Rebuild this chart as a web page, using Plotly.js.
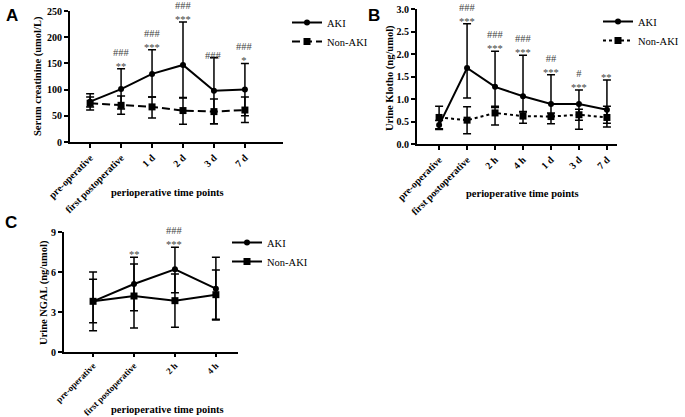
<!DOCTYPE html>
<html>
<head>
<meta charset="utf-8">
<script src="https://cdn.plot.ly/plotly-3.0.1.min.js"></script>
<style>
  html, body { margin: 0; padding: 0; background: #fff; }
  #chart { width: 685px; height: 417px; }
</style>
</head>
<body>
<div id="chart"></div>
<script>
// Panel A - serum creatinine
const aCats = ['pre-operative', 'first postoperative', '1 d', '2 d', '3 d', '7 d'];
const aAki = [77, 101, 130, 147, 98, 100];
const aAkiHi = [15, 39, 46, 82, 63, 50];
const aAkiLo = [10, 38, 44, 63, 63, 50];
const aNon = [74, 70, 67, 60, 58, 61];
const aNonHi = [12, 18, 19, 25, 24, 25];
const aNonLo = [13, 17, 21, 26, 23, 24];
const aSig = ['', '###<br>**', '###<br>***', '###<br>***', '###', '###<br>*'];

// Panel B - urine Klotho
const bCats = ['pre-operative', 'first postoperative', '2 h', '4 h', '1 d', '3 d', '7 d'];
const bAki = [0.42, 1.69, 1.27, 1.06, 0.89, 0.89, 0.76];
const bAkiHi = [0.10, 0.98, 0.79, 0.91, 0.65, 0.31, 0.66];
const bAkiLo = [0.10, 0.67, 0.43, 0.35, 0.28, 0.36, 0.30];
const bNon = [0.59, 0.53, 0.69, 0.62, 0.61, 0.65, 0.59];
const bNonHi = [0.25, 0.30, 0.12, 0.10, 0.08, 0.12, 0.25];
const bNonLo = [0.25, 0.30, 0.27, 0.16, 0.16, 0.32, 0.21];
const bSig = ['', '###<br>***', '###<br>***', '###<br>***', '##<br>***', '#<br>***', '**'];

// Panel C - urine NGAL
const cCats = ['pre-operative', 'first postoperative', '2 h', '4 h'];
const cAki = [3.8, 5.1, 6.2, 4.75];
const cAkiHi = [2.2, 2.0, 1.65, 2.35];
const cAkiLo = [2.2, 2.0, 1.75, 2.35];
const cNon = [3.8, 4.2, 3.85, 4.3];
const cNonHi = [1.65, 2.4, 2.0, 1.85];
const cNonLo = [1.6, 2.4, 2.0, 1.85];
const cSig = ['', '**', '###<br>***', ''];

const serif = "'Liberation Serif', serif";
const W = 685, H = 417;
const px = v => v / W;
const py = v => 1 - v / H;

function errs(hi, lo) {
    return { type: 'data', symmetric: false, array: hi, arrayminus: lo,
             color: '#000', thickness: 1.5, width: 4 };
}

function series(cats, y, hi, lo, name, symbol, dash, ax, leg) {
    return {
        x: cats, y: y, name: name, type: 'scatter', mode: 'lines+markers',
        xaxis: 'x' + ax, yaxis: 'y' + ax, legend: leg,
        line: { color: '#000', width: 2, dash: dash },
        marker: { color: '#000', symbol: symbol, size: symbol === 'square' ? 7 : 6 },
        error_y: errs(hi, lo)
    };
}

const traces = [
    series(aCats, aAki, aAkiHi, aAkiLo, 'AKI', 'circle', 'solid', '', 'legend'),
    series(aCats, aNon, aNonHi, aNonLo, 'Non-AKI', 'square', '8px,4px', '', 'legend'),
    series(bCats, bAki, bAkiHi, bAkiLo, 'AKI', 'circle', 'solid', '2', 'legend2'),
    series(bCats, bNon, bNonHi, bNonLo, 'Non-AKI', 'square', 'dot', '2', 'legend2'),
    series(cCats, cAki, cAkiHi, cAkiLo, 'AKI', 'circle', 'solid', '3', 'legend3'),
    series(cCats, cNon, cNonHi, cNonLo, 'Non-AKI', 'square', 'solid', '3', 'legend3')
];

function xAxis(dom, range, anchor, fs, tl) {
    return {
        domain: dom, range: range, anchor: anchor, type: 'category',
        showline: true, linecolor: '#000', linewidth: 2, showgrid: false, zeroline: false,
        ticks: 'outside', ticklen: tl, tickwidth: 1.5, tickcolor: '#000',
        tickangle: -45, tickfont: { family: serif, size: fs, color: '#000', weight: 'bold' }
    };
}

function yAxis(dom, range, dtick, fmt, anchor) {
    return {
        domain: dom, range: range, anchor: anchor, dtick: dtick, tickformat: fmt,
        showline: true, linecolor: '#000', linewidth: 2, showgrid: false, zeroline: false,
        ticks: 'outside', ticklen: 4, tickwidth: 2, tickcolor: '#000',
        tickfont: { family: serif, size: 10, color: '#000', weight: 'bold' }
    };
}

function legendAt(x, y, xa) {
    return {
        x: x, y: y, xanchor: xa, yanchor: 'top', bgcolor: 'rgba(0,0,0,0)',
        itemwidth: 30, tracegroupgap: 0,
        font: { family: serif, size: 10.5, color: '#000' }
    };
}

// significance marks sit just above the AKI upper error bar
const annotations = [];
function sigNotes(cats, y, hi, sig, ax) {
    cats.forEach((c, i) => {
        if (!sig[i]) return;
        annotations.push({
            x: c, y: y[i] + hi[i], xref: 'x' + ax, yref: 'y' + ax,
            text: sig[i], showarrow: false, xanchor: 'center', yanchor: 'bottom', yshift: -5,
            font: { family: serif, size: 10.5, color: '#444' }
        });
    });
}
sigNotes(aCats, aAki, aAkiHi, aSig, '');
sigNotes(bCats, bAki, bAkiHi, bSig, '2');
sigNotes(cCats, cAki, cAkiHi, cSig, '3');

function paperText(text, x, y, font, angle) {
    annotations.push({ x: px(x), y: py(y), xref: 'paper', yref: 'paper',
        xanchor: 'center', yanchor: 'middle', textangle: angle || 0,
        text: text, showarrow: false, font: font });
}

const titleFont = { family: serif, size: 10.5, color: '#000', weight: 'bold' };
paperText('perioperative time points', 167, 192, titleFont);
paperText('perioperative time points', 522, 193, titleFont);
paperText('perioperative time points', 167, 409, titleFont);

const yTitleFont = { family: serif, size: 10.5, color: '#000', weight: 'bold' };
paperText('Serum creatinine (umol/L)', 38, 76, yTitleFont, -90);
paperText('Urine Klotho (ng/umol)', 390, 78, yTitleFont, -90);
paperText('Urine NGAL (ng/umol)', 44, 293, yTitleFont, -90);

const letterFont = { family: "'Liberation Sans', Arial, sans-serif", size: 17, color: '#000', weight: 'bold' };
paperText('A', 12, 16, letterFont);
paperText('B', 374, 15, letterFont);
paperText('C', 11, 222, letterFont);

const layout = {
    width: W, height: H,
    margin: { l: 0, r: 0, t: 0, b: 0 },
    paper_bgcolor: '#fff', plot_bgcolor: '#fff',
    showlegend: true,
    xaxis: xAxis([px(70), px(283)], [-0.65, 6.23], 'y', 10, 4),
    yaxis: yAxis([py(142), py(11)], [0, 250], 50, '', 'x'),
    xaxis2: xAxis([px(417), px(617)], [-0.79, 6.36], 'y2', 10, 4),
    yaxis2: yAxis([py(144), py(9)], [0, 3], 0.5, '.1f', 'x2'),
    xaxis3: xAxis([px(64), px(238)], [-0.71, 3.54], 'y3', 9, 3),
    yaxis3: yAxis([py(352), py(232)], [0, 9], 3, '', 'x3'),
    legend: legendAt(px(287), py(8), 'left'),
    legend2: legendAt(px(684), py(7), 'right'),
    legend3: legendAt(px(227), py(228), 'left'),
    annotations: annotations
};

Plotly.newPlot('chart', traces, layout, { displayModeBar: false, staticPlot: true });
</script>
</body>
</html>
